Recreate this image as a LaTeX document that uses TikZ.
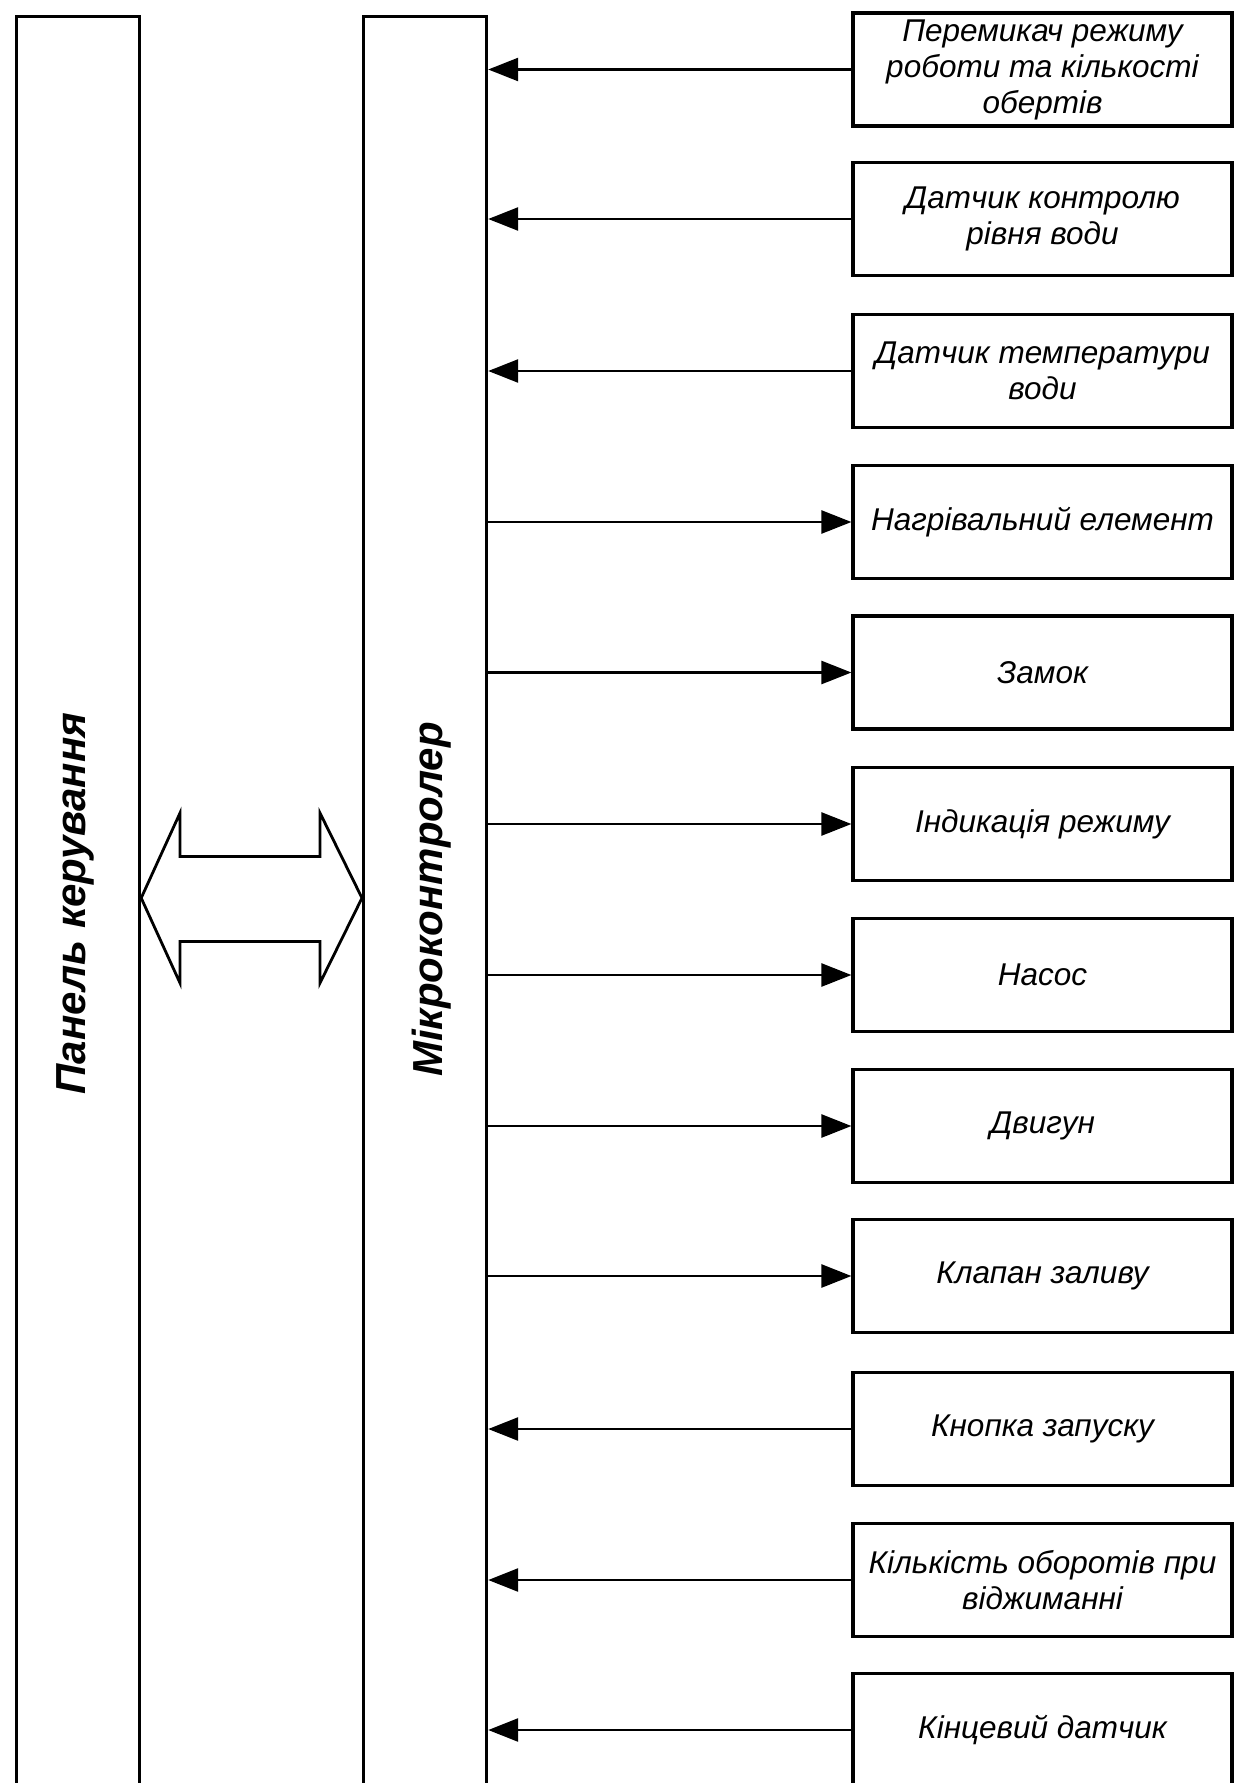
\documentclass[tikz,border=0pt]{standalone}
\usepackage{fontspec}
\setmainfont{Liberation Sans}
\usetikzlibrary{arrows.meta}

\begin{document}
\begin{tikzpicture}[x=1pt,y=-1pt,
  column/.style={draw, line width=3.2pt, minimum width=123pt, minimum height=1820pt,
    anchor=north west, inner sep=0pt},
  unit/.style={draw, line width=3.2pt, minimum width=379pt, minimum height=113pt,
    align=center, inner sep=2pt, font=\fontsize{31.5}{36}\selectfont\itshape},
  vlabel/.style={rotate=90, anchor=base, inner sep=0pt,
    font=\fontsize{42}{48}\selectfont\bfseries\itshape},
  link/.style={line width=2.6pt, -{Triangle[length=30pt,width=23pt]}},
  bus/.style={line width=2.8pt, line join=miter},
]
\useasboundingbox (0,0) rectangle (1241,1783);
\clip (0,0) rectangle (1241,1783);

% the two tall columns, open at the bottom of the sheet
\node[column] (panel) at (15,14.5) {};
\node[column] (mcu) at (362,14.5) {};
\node[vlabel] (panel-label) at (85,903.5) {Панель керування};
\node[vlabel] (mcu-label) at (442,899.5) {Мікроконтролер};

% two-way bus between the panel and the microcontroller
\draw[bus] (panel.east |- 0,898) -- (180,813) -- (180,856.5) -- (320,856.5)
  -- (320,813) -- (mcu.west |- 0,898) -- (320,983) -- (320,941.5)
  -- (180,941.5) -- (180,983) -- cycle;

% peripheral units
\node[unit] (b1)  at (1042.5,69.5)  {Перемикач режиму\\роботи та кількості\\обертів};
\node[unit] (b2)  at (1042.5,219)   {Датчик контролю\\рівня води};
\node[unit] (b3)  at (1042.5,371)   {Датчик температури\\води};
\node[unit] (b4)  at (1042.5,522)   {Нагрівальний елемент};
\node[unit] (b5)  at (1042.5,672.5) {Замок};
\node[unit] (b6)  at (1042.5,824)   {Індикація режиму};
\node[unit] (b7)  at (1042.5,975)   {Насос};
\node[unit] (b8)  at (1042.5,1126)  {Двигун};
\node[unit] (b9)  at (1042.5,1276)  {Клапан заливу};
\node[unit] (b10) at (1042.5,1429)  {Кнопка запуску};
\node[unit] (b11) at (1042.5,1580)  {Кількість оборотів при\\віджиманні};
\node[unit] (b12) at (1042.5,1730)  {Кінцевий датчик};

% inputs to the microcontroller
\foreach \b in {b1,b2,b3,b10,b11,b12}
  \draw[link] (\b.west) -- (\b.west -| mcu.east);
% outputs from the microcontroller
\foreach \b in {b4,b5,b6,b7,b8,b9}
  \draw[link] (\b.west -| mcu.east) -- (\b.west);
\end{tikzpicture}
\end{document}
